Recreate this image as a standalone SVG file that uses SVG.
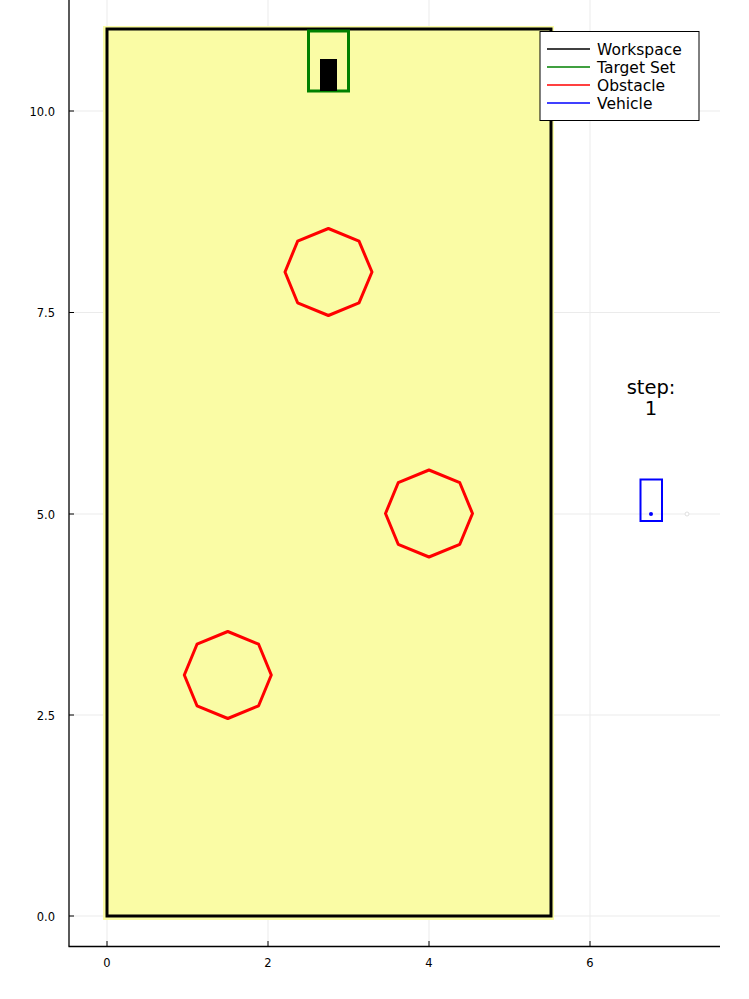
<svg xmlns="http://www.w3.org/2000/svg" width="749" height="999" viewBox="0 0 749 999">
<style>
.grid{stroke:#ebebeb;stroke-width:1;fill:none}
.tick{font-family:"DejaVu Sans",sans-serif;font-size:11.5px;fill:#000}
.axis{stroke:#000;stroke-width:1.3;fill:none}
.obs{fill:none;stroke:#ff0000;stroke-width:3;stroke-linejoin:round}
.leg{font-family:"DejaVu Sans",sans-serif;font-size:15.5px;fill:#000}
</style>
<rect width="749" height="999" fill="#fff"/>
<g id="grid">
<line class="grid" x1="107" y1="0" x2="107" y2="946"/>
<line class="grid" x1="268" y1="0" x2="268" y2="946"/>
<line class="grid" x1="429" y1="0" x2="429" y2="946"/>
<line class="grid" x1="590" y1="0" x2="590" y2="946"/>
<line class="grid" x1="69" y1="111" x2="720" y2="111"/>
<line class="grid" x1="69" y1="312.5" x2="720" y2="312.5"/>
<line class="grid" x1="69" y1="514" x2="720" y2="514"/>
<line class="grid" x1="69" y1="715" x2="720" y2="715"/>
<line class="grid" x1="69" y1="916" x2="720" y2="916"/>
</g>
<g id="workspace">
<rect x="103" y="26" width="451" height="894" fill="#fafca5"/>
<rect x="107" y="29" width="444" height="887" fill="none" stroke="#000" stroke-width="3"/>
</g>
<g id="target">
<rect x="308.5" y="31" width="40" height="60" fill="none" stroke="#008000" stroke-width="3"/>
<rect x="320" y="59" width="17" height="32" fill="#000"/>
</g>
<g id="obstacle1">
<polygon class="obs" points="372,272 359,241.2 328.4,228.5 297.6,241.2 285,272 297.6,302.8 328.4,315.5 359,302.8"/>
</g>
<g id="obstacle2">
<polygon class="obs" points="472.5,513.5 459.8,482.7 429,470 398.2,482.7 385.5,513.5 398.2,544.3 429,557 459.8,544.3"/>
</g>
<g id="obstacle3">
<polygon class="obs" points="271.3,675 258.6,644.2 227.8,631.5 197,644.2 184.3,675 197,705.8 227.8,718.5 258.6,705.8"/>
</g>
<g id="vehicle">
<rect x="640.5" y="479.5" width="21.5" height="41.5" fill="none" stroke="#0000ff" stroke-width="2"/>
<circle cx="651" cy="514" r="2" fill="#0000ff"/>
<circle cx="687" cy="514" r="2" fill="#fff" stroke="#e0e0e0" stroke-width="1"/>
</g>
<g id="steplabel" font-family="DejaVu Sans,sans-serif" font-size="19.5" text-anchor="middle" fill="#000">
<text x="651" y="394">step:</text>
<text x="651" y="415">1</text>
</g>
<g id="axes">
<line class="axis" x1="69" y1="0" x2="69" y2="946.5" stroke="#555"/>
<line class="axis" x1="68.5" y1="946.5" x2="720" y2="946.5"/>
<g stroke="#000" stroke-width="1">
<line x1="107" y1="946" x2="107" y2="941"/>
<line x1="268" y1="946" x2="268" y2="941"/>
<line x1="429" y1="946" x2="429" y2="941"/>
<line x1="590" y1="946" x2="590" y2="941"/>
<line x1="69" y1="111" x2="74" y2="111"/>
<line x1="69" y1="312.5" x2="74" y2="312.5"/>
<line x1="69" y1="514" x2="74" y2="514"/>
<line x1="69" y1="715" x2="74" y2="715"/>
<line x1="69" y1="916" x2="74" y2="916"/>
</g>
<g class="tick" text-anchor="middle">
<text x="107" y="967">0</text>
<text x="268" y="967">2</text>
<text x="429" y="967">4</text>
<text x="590" y="967">6</text>
</g>
<g class="tick" text-anchor="end">
<text x="55" y="115.5">10.0</text>
<text x="55" y="317">7.5</text>
<text x="55" y="518.5">5.0</text>
<text x="55" y="719.5">2.5</text>
<text x="55" y="920.5">0.0</text>
</g>
</g>
<g id="legend">
<rect x="540" y="31.5" width="159" height="89" fill="#fff" stroke="#000" stroke-width="1"/>
<line x1="547" y1="49" x2="590" y2="49" stroke="#000" stroke-width="1.5"/>
<line x1="547" y1="67" x2="590" y2="67" stroke="#008000" stroke-width="1.5"/>
<line x1="547" y1="85" x2="590" y2="85" stroke="#ff0000" stroke-width="1.5"/>
<line x1="547" y1="103" x2="590" y2="103" stroke="#0000ff" stroke-width="1.5"/>
<text class="leg" x="597" y="55">Workspace</text>
<text class="leg" x="597" y="73">Target Set</text>
<text class="leg" x="597" y="91">Obstacle</text>
<text class="leg" x="597" y="109">Vehicle</text>
</g>
</svg>
